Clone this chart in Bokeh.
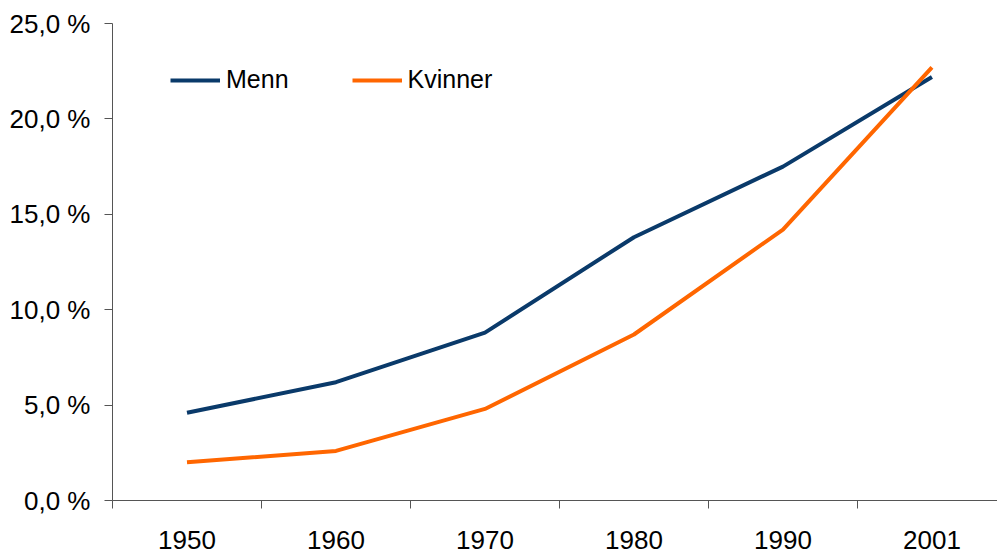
from bokeh.plotting import figure
from bokeh.models import Range1d, FixedTicker, Legend, LegendItem, ColumnDataSource
from bokeh.embed import file_html
from bokeh.resources import INLINE

years = ["1950", "1960", "1970", "1980", "1990", "2001"]
menn = [4.6, 6.2, 8.8, 13.8, 17.5, 22.2]
kvinner = [2.0, 2.6, 4.8, 8.7, 14.2, 22.7]
y_ticks = [0, 5, 10, 15, 20, 25]
y_labels = ["0,0 %", "5,0 %", "10,0 %", "15,0 %", "20,0 %", "25,0 %"]

FONT = "Liberation Sans"
pos = list(range(len(years)))

p = figure(width=997, height=554, output_backend="svg", toolbar_location=None,
           x_range=Range1d(-0.5, 5.44), y_range=Range1d(0, 25))
p.min_border_left = 112
p.min_border_right = 0
p.min_border_top = 23
p.min_border_bottom = 54
p.outline_line_color = None
p.grid.visible = False
p.background_fill_color = "white"
p.border_fill_color = "white"

src = ColumnDataSource(dict(x=pos, menn=menn, kvinner=kvinner))
r1 = p.line("x", "menn", source=src, line_color="#0A3A6A", line_width=4)
r2 = p.line("x", "kvinner", source=src, line_color="#FF6600", line_width=4)

xa = p.xaxis[0]
xa.ticker = FixedTicker(ticks=pos, minor_ticks=[i - 0.5 for i in range(len(years) + 1)])
xa.major_label_overrides = {i: y for i, y in enumerate(years)}
xa.major_tick_out = 0
xa.major_tick_in = 0
xa.minor_tick_out = 8
xa.minor_tick_in = 0
xa.minor_tick_line_color = "#555555"
xa.axis_line_color = "#555555"
xa.major_label_text_font = FONT
xa.major_label_text_font_size = "26px"
xa.major_label_text_color = "black"
xa.major_label_standoff = 22

ya = p.yaxis[0]
ya.ticker = FixedTicker(ticks=y_ticks, minor_ticks=[])
ya.major_label_overrides = {t: l for t, l in zip(y_ticks, y_labels)}
ya.major_tick_out = 8
ya.major_tick_in = 0
ya.major_tick_line_color = "#555555"
ya.axis_line_color = "#555555"
ya.major_label_text_font = FONT
ya.major_label_text_font_size = "26px"
ya.major_label_text_color = "black"
ya.major_label_standoff = 14

legend = Legend(items=[LegendItem(label="Menn", renderers=[r1]),
                       LegendItem(label="Kvinner", renderers=[r2])],
                orientation="horizontal", location=(58, 406),
                label_text_font=FONT, label_text_font_size="25px",
                label_text_color="black", glyph_width=50, glyph_height=26,
                label_standoff=6, spacing=63, padding=0, margin=0,
                border_line_color=None, background_fill_alpha=0)
p.add_layout(legend, "center")

open("out.html", "w").write(file_html(p, INLINE))
